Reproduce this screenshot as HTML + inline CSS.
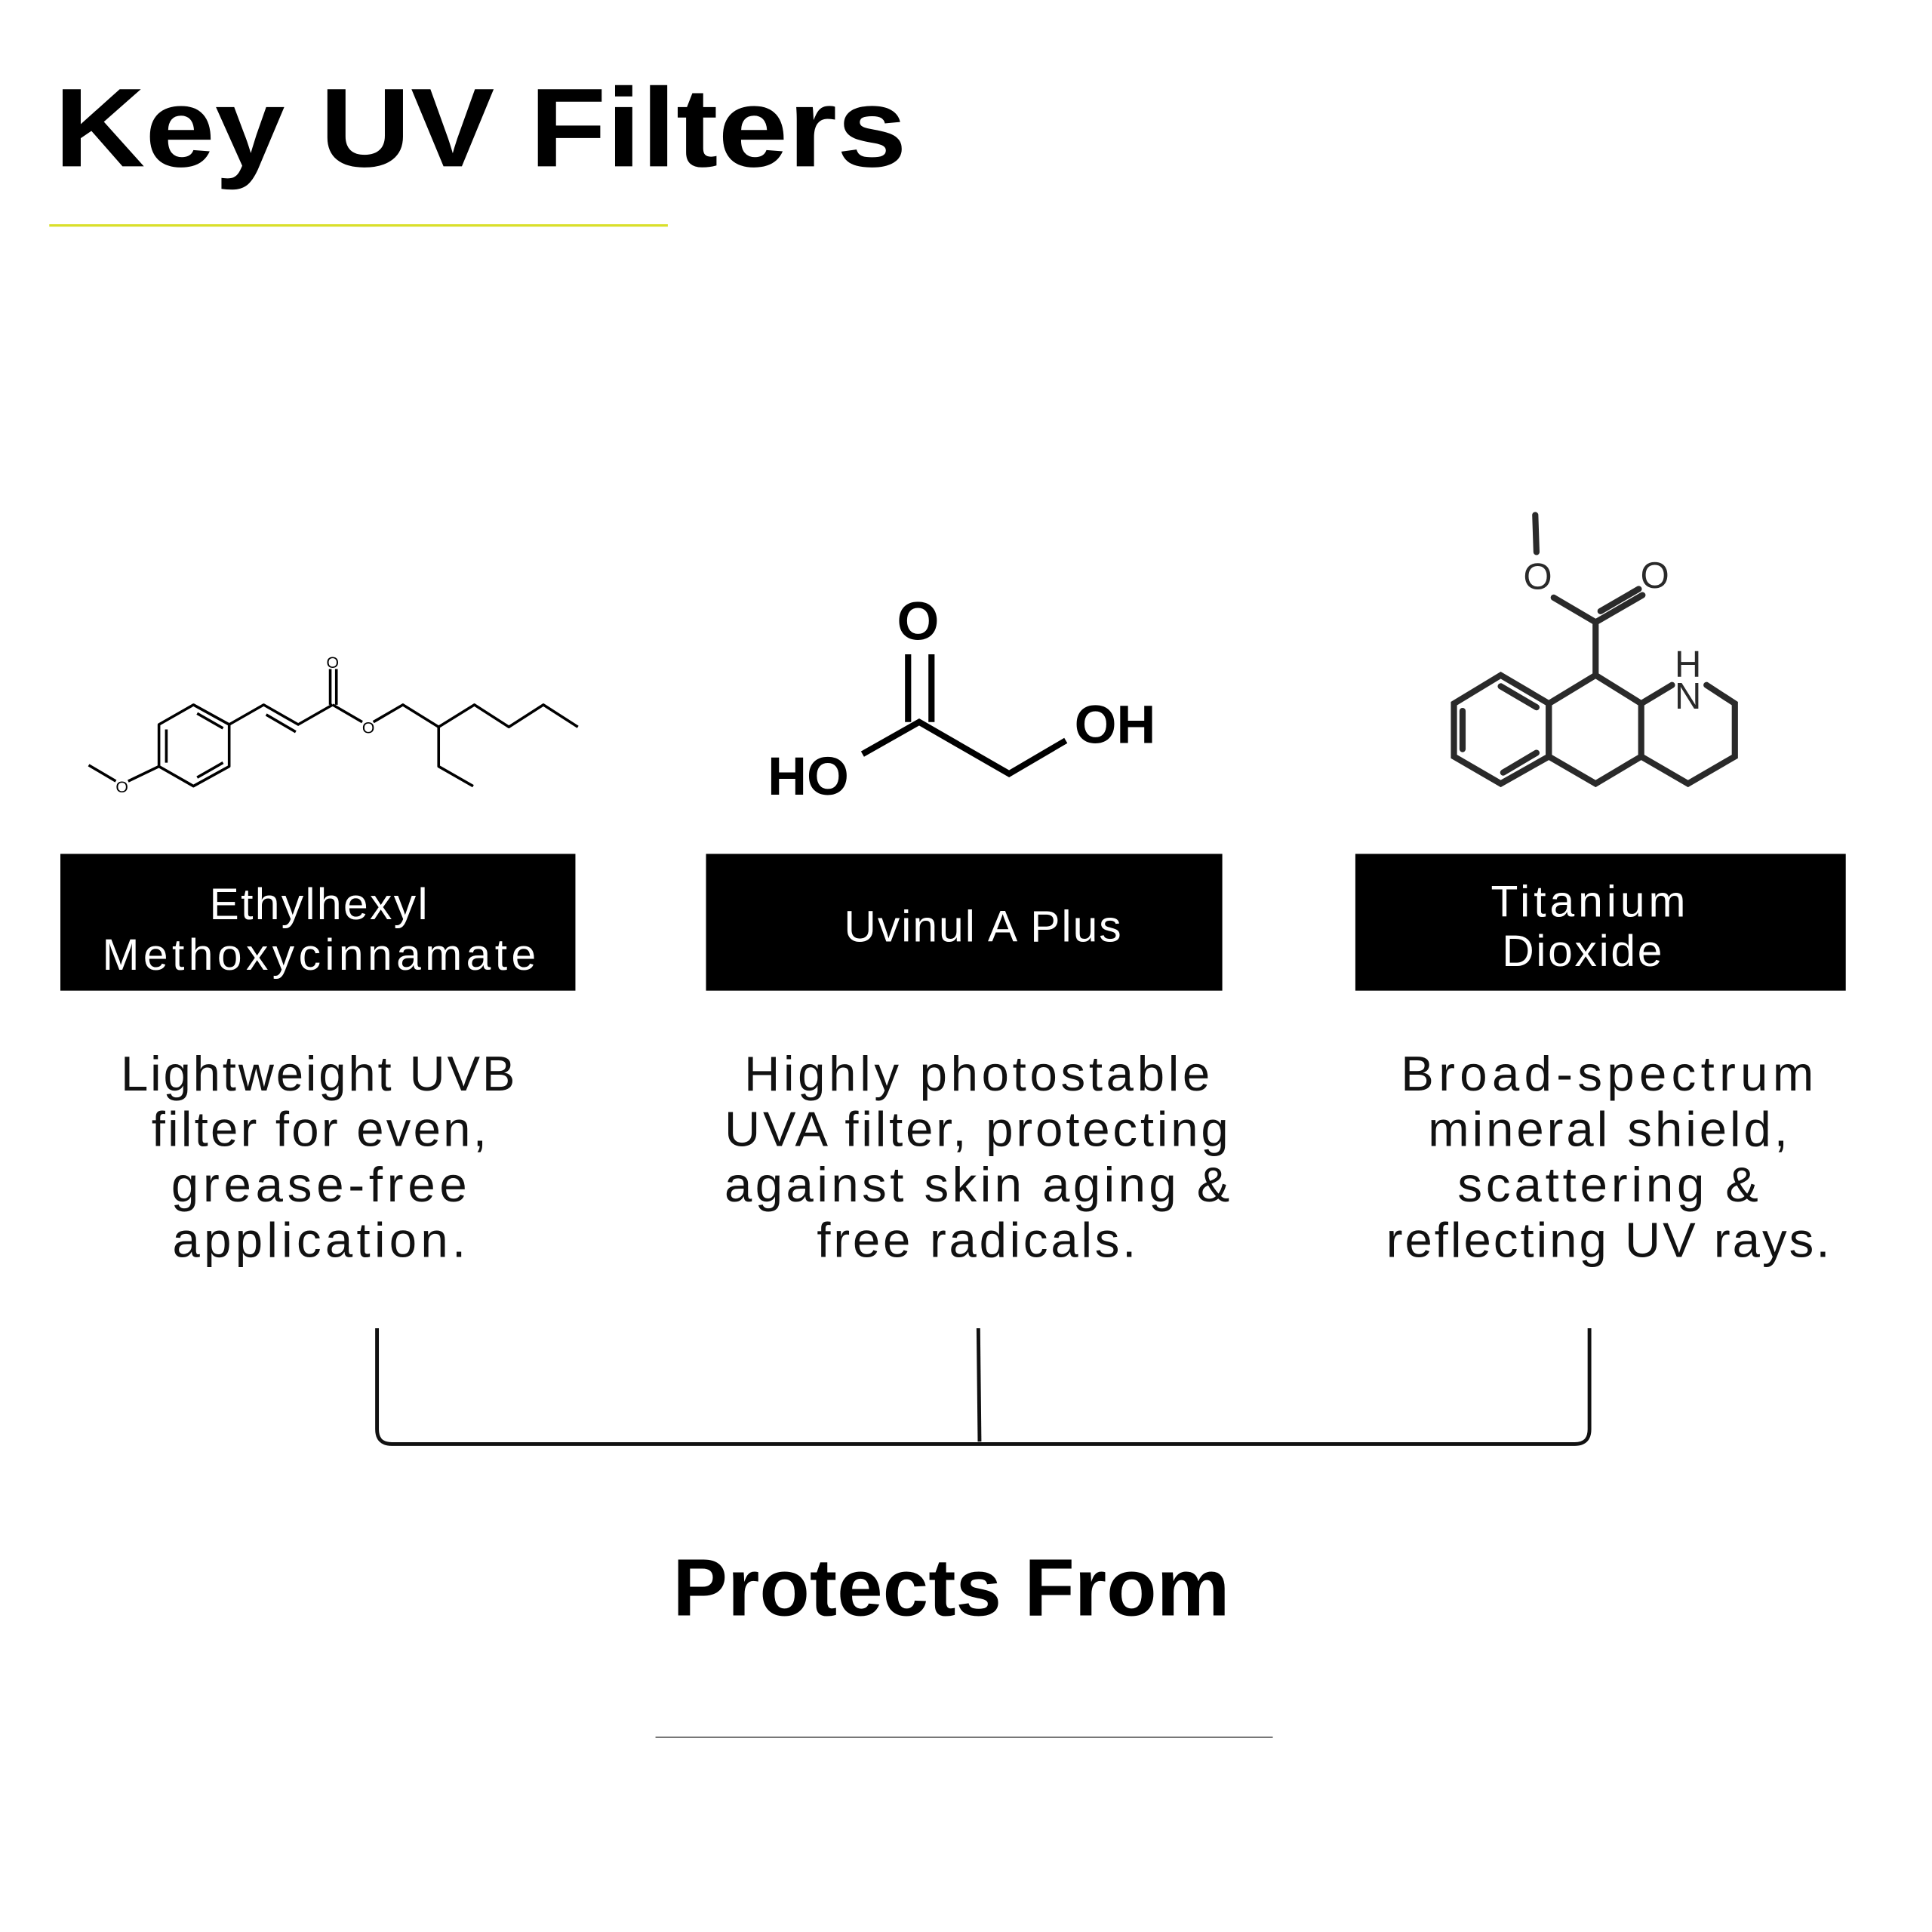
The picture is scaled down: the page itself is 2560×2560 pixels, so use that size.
<!DOCTYPE html>
<html><head><meta charset="utf-8"><style>
html,body{margin:0;padding:0;background:#fff}
svg{display:block}
text{font-family:"Liberation Sans",sans-serif}
</style></head><body>
<svg width="2560" height="2560" viewBox="0 0 1568 1568" xmlns="http://www.w3.org/2000/svg">
<rect width="1568" height="1568" fill="#fff"/>
<text x="44" y="135" font-size="91" font-weight="bold" textLength="692" lengthAdjust="spacingAndGlyphs">Key UV Filters</text>
<line x1="40" y1="183" x2="542" y2="183" stroke="#d9df2a" stroke-width="2"/>

<!-- molecule 1 -->
<g fill="none" stroke="#000" stroke-width="2.2" stroke-linejoin="round">
<polyline points="72,621 94,634"/>
<polyline points="104,634 129,622"/>
<polygon points="129,622 129,588 157,572 186,588 186,622 157,638"/>
<line x1="135" y1="619" x2="135" y2="592"/>
<line x1="160" y1="631" x2="181" y2="619"/>
<line x1="160" y1="579" x2="181" y2="591"/>
<polyline points="186,588 214,572 242,588 270,572"/>
<line x1="216" y1="580" x2="240" y2="594"/>
<line x1="268" y1="572" x2="268" y2="543"/><line x1="273" y1="572" x2="273" y2="543"/>
<polyline points="270,572 294,586"/>
<polyline points="303,586 327,572 356,590 385,572 413,590 441,572 469,590"/>
<polyline points="356,590 356,622 384,638"/>
</g>
<g font-size="13" text-anchor="middle"><text x="270" y="542">O</text><text x="299" y="595">O</text><text x="99" y="643">O</text></g>

<!-- molecule 2 -->
<g fill="none" stroke="#000" stroke-width="5">
<polyline points="700,612 746,586 819,628 865,601"/>
<line x1="737" y1="586" x2="737" y2="531"/><line x1="756" y1="586" x2="756" y2="531"/>
</g>
<g font-size="44" font-weight="bold"><text x="623" y="645">HO</text><text x="872" y="603">OH</text><text x="728" y="519">O</text></g>

<!-- molecule 3 -->
<g fill="none" stroke="#2a2a2a" stroke-width="5" stroke-linecap="round">
<line x1="1246" y1="418" x2="1247" y2="448"/>
<polyline points="1261,485 1295,505 1295,548"/>
<line x1="1295" y1="505" x2="1333" y2="483"/><line x1="1299" y1="496" x2="1330" y2="478"/>
<polygon points="1295,548 1332,571 1332,614 1295,636 1257,614 1257,571"/>
<polygon points="1257,571 1218,548 1180,571 1180,614 1218,636 1257,614"/>
<line x1="1187" y1="577" x2="1187" y2="608"/>
<line x1="1218" y1="557" x2="1247" y2="574"/>
<line x1="1220" y1="627" x2="1247" y2="611"/>
<polyline points="1332,571 1357,556"/>
<polyline points="1385,556 1408,571 1408,614 1370,636 1332,614"/>
</g>
<g font-size="30" fill="#2a2a2a" text-anchor="middle"><text x="1248" y="478">O</text><text x="1343" y="477">O</text><text x="1370" y="575">N</text><text x="1370" y="549">H</text></g>

<!-- boxes -->
<rect x="49" y="693" width="418" height="111" fill="#000"/>
<rect x="573" y="693" width="419" height="111" fill="#000"/>
<rect x="1100" y="693" width="398" height="111" fill="#000"/>
<g fill="#fff" font-size="36" lengthAdjust="spacingAndGlyphs">
<text x="170" y="746" textLength="177">Ethylhexyl</text><text x="83" y="787" textLength="352">Methoxycinnamate</text>
<text x="685" y="764" textLength="225">Uvinul A Plus</text>
<text x="1210" y="744" textLength="158">Titanium</text><text x="1219" y="784" textLength="130">Dioxide</text>
</g>

<g font-size="40" fill="#111" lengthAdjust="spacingAndGlyphs">
<text x="98" y="885" textLength="320">Lightweight UVB</text><text x="123" y="930" textLength="272">filter for even,</text><text x="139" y="975" textLength="240">grease-free</text><text x="140" y="1020" textLength="238">application.</text>
<text x="604" y="885" textLength="378">Highly photostable</text><text x="588" y="930" textLength="409">UVA filter, protecting</text><text x="588" y="975" textLength="410">against skin aging &amp;</text><text x="663" y="1020" textLength="259">free radicals.</text>
<text x="1137" y="885" textLength="335">Broad-spectrum</text><text x="1159" y="930" textLength="292">mineral shield,</text><text x="1183" y="975" textLength="244">scattering &amp;</text><text x="1125" y="1020" textLength="360">reflecting UV rays.</text>
</g>

<!-- bracket -->
<path d="M306,1078 V1160 Q306,1172 318,1172 H1278 Q1290,1172 1290,1160 V1078" fill="none" stroke="#111" stroke-width="3"/>
<line x1="794" y1="1078" x2="795" y2="1170" stroke="#111" stroke-width="3"/>

<text x="546" y="1311" font-size="66" font-weight="bold" textLength="452" lengthAdjust="spacingAndGlyphs">Protects From</text>
<line x1="532" y1="1410" x2="1033" y2="1410" stroke="#777" stroke-width="1.2"/>
</svg>
</body></html>
